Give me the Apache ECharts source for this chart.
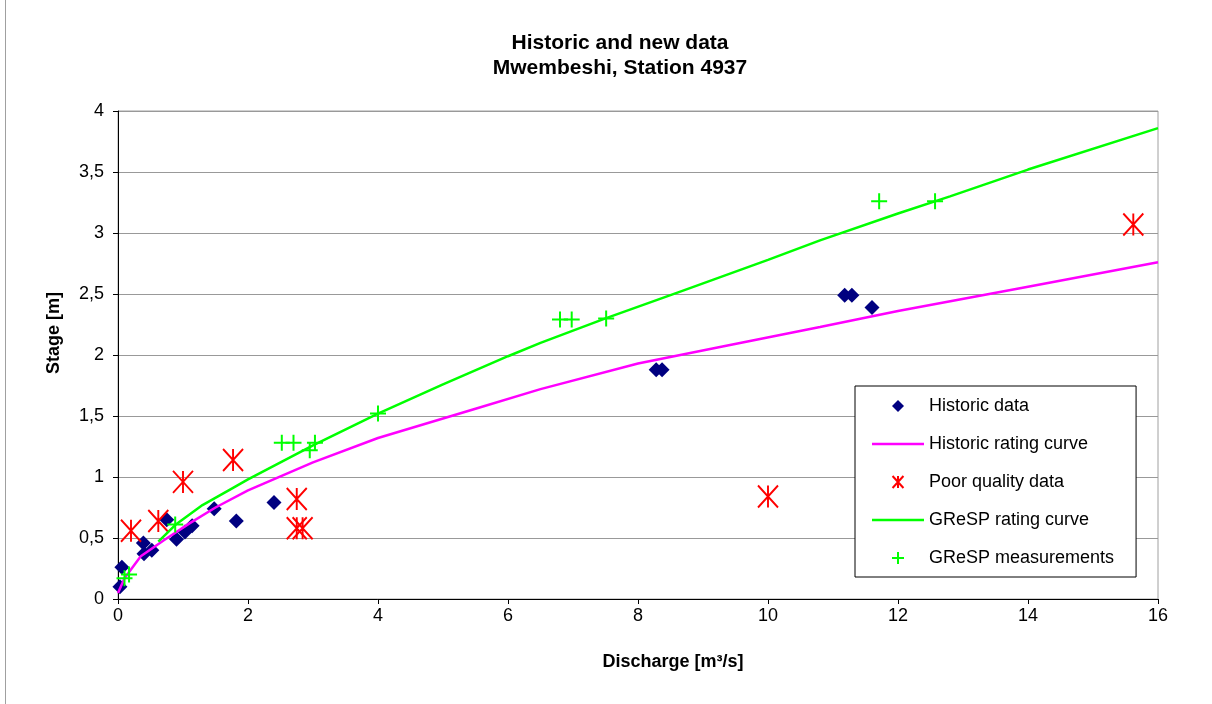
<!DOCTYPE html>
<html>
<head>
<meta charset="utf-8">
<script src="https://cdn.jsdelivr.net/npm/echarts@6/dist/echarts.min.js"></script>
<style>html,body{margin:0;padding:0;background:#fff}#c{width:1212px;height:704px}</style>
</head>
<body>
<div id="c"></div>
<script>
// Historic data (discharge m3/s, stage m)
const historicX = [0.03, 0.06, 0.39, 0.40, 0.52, 0.75, 0.90, 1.03, 1.14, 1.48, 1.82, 2.40, 8.28, 8.37, 11.18, 11.29, 11.60];
const historicY = [0.10, 0.26, 0.46, 0.37, 0.40, 0.65, 0.49, 0.55, 0.60, 0.74, 0.64, 0.79, 1.88, 1.88, 2.49, 2.49, 2.39];
// Historic rating curve
const histCurveX = [0, 0.1, 0.35, 0.7, 1.1, 1.5, 2, 3, 4, 5.5, 6.5, 8, 9.3, 10.8, 12, 14, 16];
const histCurveY = [0.05, 0.17, 0.35, 0.48, 0.62, 0.75, 0.89, 1.12, 1.32, 1.56, 1.72, 1.93, 2.07, 2.23, 2.36, 2.56, 2.76];
// Poor quality data
const poorX = [0.20, 0.62, 1.00, 1.77, 2.75, 2.75, 2.84, 10.00, 15.62];
const poorY = [0.56, 0.64, 0.96, 1.14, 0.82, 0.58, 0.58, 0.84, 3.07];
// GReSP rating curve
const grespCurveX = [0.62, 0.9, 1.3, 1.75, 2, 3, 4, 5, 6, 6.5, 7.5, 8.65, 10, 10.8, 12, 12.8, 14, 16];
const grespCurveY = [0.47, 0.615, 0.77, 0.905, 0.98, 1.26, 1.52, 1.76, 1.99, 2.10, 2.30, 2.52, 2.78, 2.94, 3.16, 3.30, 3.52, 3.86];
// GReSP measurements
const grespX = [0.10, 0.17, 0.88, 2.52, 2.70, 2.95, 3.03, 4.00, 6.80, 6.98, 7.51, 11.71, 12.57];
const grespY = [0.17, 0.20, 0.61, 1.28, 1.28, 1.22, 1.28, 1.52, 2.29, 2.29, 2.30, 3.26, 3.26];

const xTicks = {min: 0, max: 16, interval: 2};
const yTicks = {min: 0, max: 4, interval: 0.5};

const zip = (a, b) => a.map((v, i) => [v, b[i]]);
const FONT = '"Liberation Sans", Arial, sans-serif';
const LINE_ICON = 'path://M0,0L52,0L52,2.5L0,2.5Z';

const chart = echarts.init(document.getElementById('c'), null, {renderer: 'canvas'});
chart.setOption({
  animation: false,
  backgroundColor: '#fff',
  title: {
    text: 'Historic and new data\nMwembeshi, Station 4937',
    left: 620, top: 31, textAlign: 'center', padding: 0,
    textStyle: {fontFamily: FONT, fontSize: 21, fontWeight: 'bold', color: '#000', lineHeight: 25}
  },
  graphic: [{
    type: 'line', silent: true,
    shape: {x1: 5.5, y1: 0, x2: 5.5, y2: 704},
    style: {stroke: '#a0a0a0', lineWidth: 1}
  }],
  grid: {left: 118, right: 54, top: 111, bottom: 105, show: true, borderColor: '#a0a0a0', borderWidth: 1},
  legend: {
    orient: 'vertical', left: 855, top: 386,
    padding: [10, 22, 9, 17], itemGap: 18, itemWidth: 52, itemHeight: 12,
    symbolKeepAspect: true,
    borderColor: '#000', borderWidth: 1, backgroundColor: '#fff',
    textStyle: {fontFamily: FONT, fontSize: 18, color: '#000', lineHeight: 20},
    data: [
      {name: 'Historic data', icon: 'path://M5,0L10,5L5,10L0,5Z'},
      {name: 'Historic rating curve', icon: LINE_ICON},
      {name: 'Poor quality data'},
      {name: 'GReSP rating curve', icon: LINE_ICON},
      {name: 'GReSP measurements'}
    ]
  },
  xAxis: {
    type: 'value', min: xTicks.min, max: xTicks.max, interval: xTicks.interval,
    name: 'Discharge [m³/s]', nameLocation: 'middle', nameGap: 54,
    nameTextStyle: {fontFamily: FONT, fontSize: 18, fontWeight: 'bold', color: '#000', padding: [0, 0, 0, 70]},
    axisLine: {lineStyle: {color: '#000', width: 1}},
    axisTick: {show: true, length: 5, lineStyle: {color: '#000'}},
    axisLabel: {fontFamily: FONT, fontSize: 18, color: '#000', margin: 8},
    splitLine: {show: false}
  },
  yAxis: {
    type: 'value', min: yTicks.min, max: yTicks.max, interval: yTicks.interval,
    name: 'Stage [m]', nameLocation: 'middle', nameGap: 55, nameRotate: 90,
    nameTextStyle: {fontFamily: FONT, fontSize: 18, fontWeight: 'bold', color: '#000', padding: [0, 0, 0, 44]},
    axisLine: {show: true, lineStyle: {color: '#000', width: 1}},
    axisTick: {show: true, length: 5, lineStyle: {color: '#000'}},
    axisLabel: {fontFamily: FONT, fontSize: 18, color: '#000', margin: 14,
      formatter: v => String(v).replace('.', ',')},
    splitLine: {show: true, lineStyle: {color: '#999', width: 1}}
  },
  series: [
    {
      name: 'Historic data', type: 'scatter', data: zip(historicX, historicY),
      symbol: 'diamond', symbolSize: 15, itemStyle: {color: '#000080', opacity: 1}, z: 3
    },
    {
      name: 'Historic rating curve', type: 'line', data: zip(histCurveX, histCurveY),
      symbol: 'none', smooth: false, lineStyle: {color: '#ff00ff', width: 2.5}, itemStyle: {color: '#ff00ff'}, z: 4
    },
    {
      name: 'Poor quality data', type: 'scatter', data: zip(poorX, poorY),
      symbol: 'path://M0,0L20,22M20,0L0,22M10,0L10,22', symbolSize: [20, 22],
      itemStyle: {color: 'rgba(0,0,0,0)', borderColor: '#ff0000', borderWidth: 2, opacity: 1}, z: 5
    },
    {
      name: 'GReSP rating curve', type: 'line', data: zip(grespCurveX, grespCurveY),
      symbol: 'none', smooth: false, lineStyle: {color: '#00ff00', width: 2.5}, itemStyle: {color: '#00ff00'}, z: 6
    },
    {
      name: 'GReSP measurements', type: 'scatter', data: zip(grespX, grespY),
      symbol: 'path://M0,8L16,8M8,0L8,16', symbolSize: 16,
      itemStyle: {color: 'rgba(0,0,0,0)', borderColor: '#00ff00', borderWidth: 2, opacity: 1}, z: 7
    }
  ]
});
</script>
</body>
</html>
